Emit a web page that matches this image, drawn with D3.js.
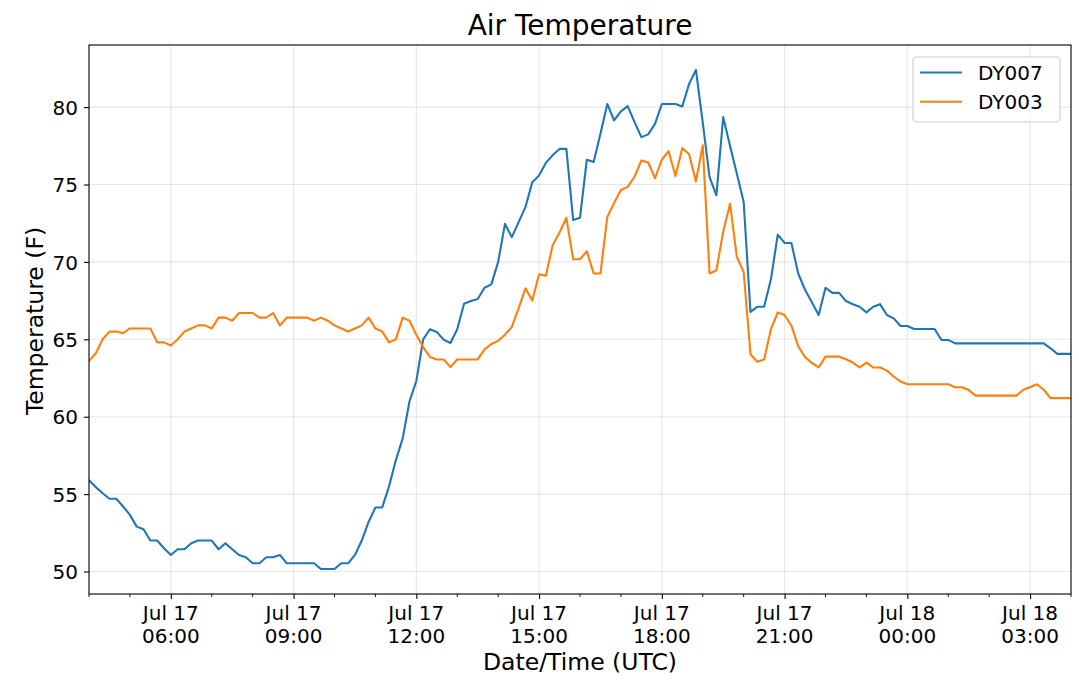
<!DOCTYPE html>
<html>
<head>
<meta charset="utf-8">
<script src="https://cdn.jsdelivr.net/npm/d3@7"></script>
<style>
  html, body { margin: 0; padding: 0; background: #fff; }
  svg { display: block; font-family: "DejaVu Sans", sans-serif; }
</style>
</head>
<body>
<svg id="chart" width="1079" height="686"></svg>
<script>
// ---- Data ----
const startTime = "2019-07-17T04:00:00Z";   // first sample (UTC)
const stepMinutes = 10;                     // sampling interval
const seriesNames = ["DY007", "DY003"];
const seriesColors = ["#1f77b4", "#ff7f0e"];

const dy007 = [
  55.9, 55.45, 55.06, 54.7, 54.7, 54.2, 53.66, 52.9, 52.73, 52.0,
  52.0, 51.5, 51.07, 51.44, 51.44, 51.83, 52.0, 52.0, 52.0, 51.44,
  51.83, 51.44, 51.07, 50.92, 50.53, 50.53, 50.92, 50.92, 51.07, 50.53,
  50.53, 50.53, 50.53, 50.53, 50.16, 50.16, 50.16, 50.53, 50.53, 51.07,
  52.0, 53.2, 54.14, 54.14, 55.5, 57.2, 58.6, 61.0, 62.3, 65.0,
  65.65, 65.47, 64.98, 64.76, 65.65, 67.3, 67.47, 67.6, 68.33, 68.55,
  70.0, 72.46, 71.6, 72.57, 73.54, 75.15, 75.58, 76.4, 76.9, 77.3,
  77.3, 72.7, 72.85, 76.6, 76.45, 78.28, 80.2, 79.14, 79.72, 80.06,
  79.03, 78.06, 78.24, 78.92, 80.2, 80.2, 80.2, 80.04, 81.5, 82.4,
  79.0, 75.48, 74.3, 79.35, 77.5, 75.7, 73.87, 66.77, 67.1, 67.1,
  68.88, 71.76, 71.23, 71.22, 69.25, 68.2, 67.4, 66.57, 68.33, 68.0,
  68.0, 67.47, 67.27, 67.1, 66.74, 67.1, 67.27, 66.57, 66.35, 65.86,
  65.86, 65.67, 65.67, 65.67, 65.67, 64.96, 64.96, 64.74, 64.74, 64.74,
  64.74, 64.74, 64.74, 64.74, 64.74, 64.74, 64.74, 64.74, 64.74, 64.74,
  64.74, 64.42, 64.06, 64.06, 64.06
];

const dy003 = [
  63.6, 64.1, 65.0, 65.5, 65.5, 65.4, 65.7, 65.7, 65.7, 65.7,
  64.8, 64.8, 64.6, 65.0, 65.5, 65.7, 65.9, 65.9, 65.7, 66.4,
  66.4, 66.2, 66.7, 66.7, 66.7, 66.4, 66.4, 66.7, 65.9, 66.4,
  66.4, 66.4, 66.4, 66.2, 66.4, 66.2, 65.9, 65.7, 65.5, 65.7,
  65.9, 66.4, 65.7, 65.5, 64.8, 65.0, 66.4, 66.2, 65.3, 64.5,
  63.86, 63.7, 63.7, 63.2, 63.7, 63.7, 63.7, 63.7, 64.35, 64.7,
  64.9, 65.3, 65.8, 67.0, 68.3, 67.5, 69.2, 69.1, 71.1, 71.9,
  72.84, 70.17, 70.17, 70.69, 69.25, 69.25, 72.9, 73.8, 74.65, 74.85,
  75.5, 76.55, 76.42, 75.4, 76.6, 77.15, 75.55, 77.35, 76.95, 75.2,
  77.53, 69.25, 69.45, 71.95, 73.76, 70.32, 69.35, 64.04, 63.55, 63.7,
  65.65, 66.74, 66.57, 65.88, 64.55, 63.85, 63.47, 63.18, 63.88, 63.88,
  63.88, 63.71, 63.5, 63.18, 63.5, 63.18, 63.18, 62.98, 62.6, 62.27,
  62.1, 62.1, 62.1, 62.1, 62.1, 62.1, 62.1, 61.9, 61.9, 61.72,
  61.36, 61.36, 61.36, 61.36, 61.36, 61.36, 61.36, 61.74, 61.9, 62.1,
  61.74, 61.2, 61.2, 61.2, 61.2
];

const xTickTimes = [
  "2019-07-17T06:00:00Z", "2019-07-17T09:00:00Z", "2019-07-17T12:00:00Z",
  "2019-07-17T15:00:00Z", "2019-07-17T18:00:00Z", "2019-07-17T21:00:00Z",
  "2019-07-18T00:00:00Z", "2019-07-18T03:00:00Z"
];
const yTickValues = [50, 55, 60, 65, 70, 75, 80];

const titleText = "Air Temperature";
const xLabelText = "Date/Time (UTC)";
const yLabelText = "Temperature (F)";

// ---- Layout ----
const W = 1079, H = 686;
const pL = 89, pR = 1071, pT = 45, pB = 594;

const t0 = new Date(startTime);
const times = dy007.map((_, i) => new Date(t0.getTime() + i * stepMinutes * 60000));
const series = [dy007, dy003].map((vals, k) => ({
  name: seriesNames[k], color: seriesColors[k],
  points: vals.map((v, i) => ({ t: times[i], v }))
}));

const allVals = dy007.concat(dy003);
const vmin = d3.min(allVals), vmax = d3.max(allVals);
const pad = (vmax - vmin) * 0.05;

const x = d3.scaleUtc()
  .domain([t0, new Date(t0.getTime() + 24 * 3600000)])
  .range([pL, pR]);
const y = d3.scaleLinear()
  .domain([vmin - pad, vmax + pad])
  .range([pB, pT]);

const svg = d3.select("#chart");
svg.append("rect").attr("width", W).attr("height", H).attr("fill", "#fff");

const xTicks = xTickTimes.map(s => new Date(s));
const minorTicks = d3.utcHour.every(1).range(x.domain()[0], new Date(x.domain()[1].getTime() + 1));

// grid
const grid = svg.append("g").attr("stroke", "#b0b0b0").attr("stroke-opacity", 0.3).attr("stroke-width", 1.1);
grid.selectAll("line.gx").data(xTicks).join("line")
  .attr("x1", d => x(d)).attr("x2", d => x(d)).attr("y1", pT).attr("y2", pB);
grid.selectAll("line.gy").data(yTickValues).join("line")
  .attr("y1", d => y(d)).attr("y2", d => y(d)).attr("x1", pL).attr("x2", pR);

// lines
svg.append("clipPath").attr("id", "clip").append("rect")
  .attr("x", pL).attr("y", pT).attr("width", pR - pL).attr("height", pB - pT);
const line = d3.line().x(d => x(d.t)).y(d => y(d.v));
svg.append("g").attr("clip-path", "url(#clip)")
  .selectAll("path").data(series).join("path")
  .attr("d", d => line(d.points))
  .attr("fill", "none").attr("stroke", d => d.color)
  .attr("stroke-width", 2.1).attr("stroke-linejoin", "round").attr("stroke-linecap", "square");

// frame
svg.append("rect").attr("x", pL).attr("y", pT).attr("width", pR - pL).attr("height", pB - pT)
  .attr("fill", "none").attr("stroke", "#000").attr("stroke-width", 1.1);

// x axis
const xAxis = svg.append("g").attr("transform", `translate(0,${pB})`)
  .call(d3.axisBottom(x).tickValues(xTicks).tickSize(5).tickFormat(() => ""));
xAxis.select(".domain").remove();
xAxis.selectAll(".tick line").attr("stroke", "#000").attr("stroke-width", 1.1);
svg.append("g").attr("transform", `translate(0,${pB})`)
  .selectAll("line").data(minorTicks.filter(t => !xTicks.some(m => +m === +t))).join("line")
  .attr("x1", d => x(d)).attr("x2", d => x(d)).attr("y1", 0).attr("y2", 3)
  .attr("stroke", "#000").attr("stroke-width", 0.9);

const fmtDay = d3.utcFormat("%b %d");
const fmtTime = d3.utcFormat("%H:%M");
const xl = svg.append("g").attr("font-size", 20).attr("fill", "#000").attr("text-anchor", "middle");
xl.selectAll("text").data(xTicks).join("text")
  .each(function(d) {
    const t = d3.select(this);
    t.append("tspan").attr("x", x(d)).attr("y", 620).text(fmtDay(d));
    t.append("tspan").attr("x", x(d)).attr("y", 643).text(fmtTime(d));
  });

// y axis
const yAxis = svg.append("g").attr("transform", `translate(${pL},0)`)
  .call(d3.axisLeft(y).tickValues(yTickValues).tickSize(5).tickPadding(6).tickFormat(d3.format("d")));
yAxis.select(".domain").remove();
yAxis.selectAll(".tick line").attr("stroke", "#000").attr("stroke-width", 1.1);
yAxis.selectAll(".tick text").attr("font-size", 20).attr("fill", "#000")
  .attr("font-family", "DejaVu Sans").attr("dy", "0.36em");

// labels
svg.append("text").attr("x", (pL + pR) / 2).attr("y", 35).attr("text-anchor", "middle")
  .attr("font-size", 28).attr("fill", "#000").text(titleText);
svg.append("text").attr("x", (pL + pR) / 2).attr("y", 670).attr("text-anchor", "middle")
  .attr("font-size", 23.5).attr("fill", "#000").text(xLabelText);
svg.append("text").attr("transform", `translate(43,321) rotate(-90)`)
  .attr("text-anchor", "middle").attr("font-size", 23.5).attr("fill", "#000").text(yLabelText);

// legend
const lg = svg.append("g");
lg.append("rect").attr("x", 913).attr("y", 57).attr("width", 147).attr("height", 65)
  .attr("rx", 4).attr("fill", "#fff").attr("fill-opacity", 0.8)
  .attr("stroke", "#cccccc").attr("stroke-width", 1.1);
series.forEach((s, k) => {
  const ly = 72.5 + k * 29.3;
  lg.append("line").attr("x1", 920).attr("x2", 962).attr("y1", ly).attr("y2", ly)
    .attr("stroke", s.color).attr("stroke-width", 2.1);
  lg.append("text").attr("x", 978).attr("y", ly + 7.3).attr("font-size", 20).attr("fill", "#000").text(s.name);
});
</script>
</body>
</html>
